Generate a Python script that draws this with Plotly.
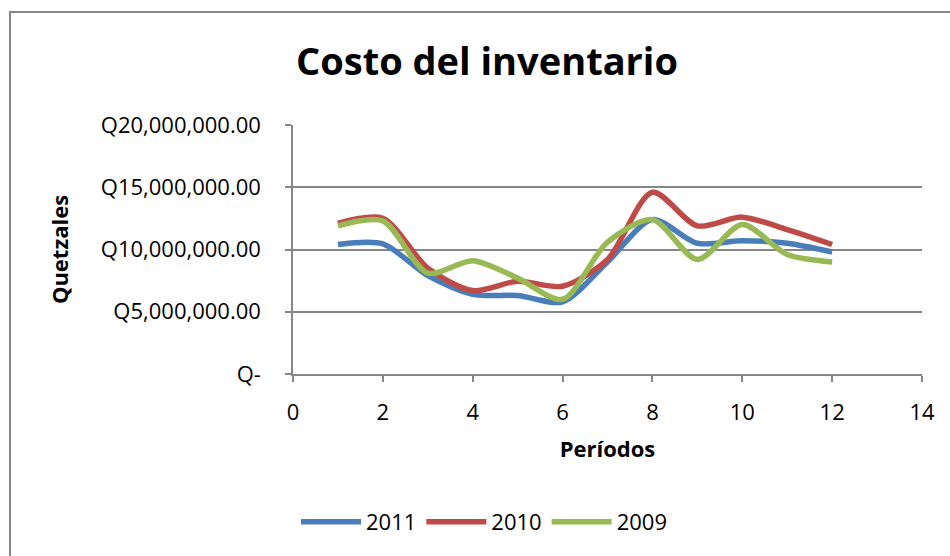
import plotly.graph_objects as go

periods = [1, 2, 3, 4, 5, 6, 7, 8, 9, 10, 11, 12]
s2011 = [10.4e6, 10.45e6, 7.9e6, 6.4e6, 6.3e6, 5.8e6, 9.0e6, 12.4e6, 10.5e6, 10.7e6, 10.5e6, 9.8e6]
s2010 = [12.1e6, 12.5e6, 8.5e6, 6.7e6, 7.45e6, 7.05e6, 9.2e6, 14.6e6, 11.9e6, 12.6e6, 11.6e6, 10.4e6]
s2009 = [11.9e6, 12.3e6, 8.1e6, 9.1e6, 7.7e6, 6.0e6, 10.6e6, 12.4e6, 9.2e6, 12.0e6, 9.6e6, 9.0e6]

series = [("2011", s2011, "#4A7EBB"), ("2010", s2010, "#BE4B48"), ("2009", s2009, "#98B954")]

ytickvals = [0, 5e6, 10e6, 15e6, 20e6]
yticktext = ["Q-", "Q5,000,000.00", "Q10,000,000.00", "Q15,000,000.00", "Q20,000,000.00"]
xtickvals = [0, 2, 4, 6, 8, 10, 12, 14]

FONT = "Open Sans"
fig = go.Figure()
for name, vals, color in series:
    fig.add_trace(go.Scatter(x=periods, y=vals, name=name, mode="lines",
                             line=dict(color=color, width=5.5, shape="spline", smoothing=0.8)))

W, H = 950, 556
L, R, T, B = 293, W - 922, 125, H - 374
pw, ph = W - L - R, H - T - B

def px2paper_x(px):
    return (px - L) / pw

def px2paper_y(py):
    return (H - B - py) / ph

fig.add_shape(type="rect", xref="paper", yref="paper",
              x0=px2paper_x(10), x1=px2paper_x(1000), y0=px2paper_y(620), y1=px2paper_y(12),
              line=dict(color="#868686", width=2), fillcolor="rgba(0,0,0,0)", layer="below")

fig.update_layout(
    width=W, height=H,
    margin=dict(l=L, r=R, t=T, b=B),
    paper_bgcolor="white", plot_bgcolor="white",
    font=dict(family=FONT, size=22, color="black"),
    title=dict(text="<b>Costo del inventario</b>", x=487 / W, xanchor="center", xref="container",
               y=1 - 62 / H, yanchor="middle", font=dict(family=FONT, size=38, color="black")),
    showlegend=True,
    legend=dict(orientation="h", x=px2paper_x(484), xanchor="center", y=px2paper_y(522), yanchor="middle",
                font=dict(size=22), bgcolor="rgba(0,0,0,0)", itemwidth=60),
    xaxis=dict(range=[0, 14], tickvals=xtickvals, showgrid=False, zeroline=False,
               showline=True, linecolor="#868686", linewidth=1.5,
               ticks="outside", ticklen=6, tickcolor="#868686", tickwidth=1.5,
               ticklabelstandoff=12,
               title=dict(text="<b>Períodos</b>", font=dict(size=22), standoff=16)),
    yaxis=dict(range=[0, 20e6], tickvals=ytickvals, ticktext=yticktext,
               showgrid=True, gridcolor="#868686", gridwidth=1.5, zeroline=False,
               showline=True, linecolor="#868686", linewidth=1.5,
               ticks="outside", ticklen=6, tickcolor="#868686", tickwidth=1.5,
               ticklabelstandoff=20,
               title=dict(text="<b>Quetzales</b>", font=dict(size=22), standoff=26)),
)

fig.write_html("out.html", config={"displayModeBar": False},
               post_script="document.body.style.margin='0';document.body.style.overflow='hidden';")
